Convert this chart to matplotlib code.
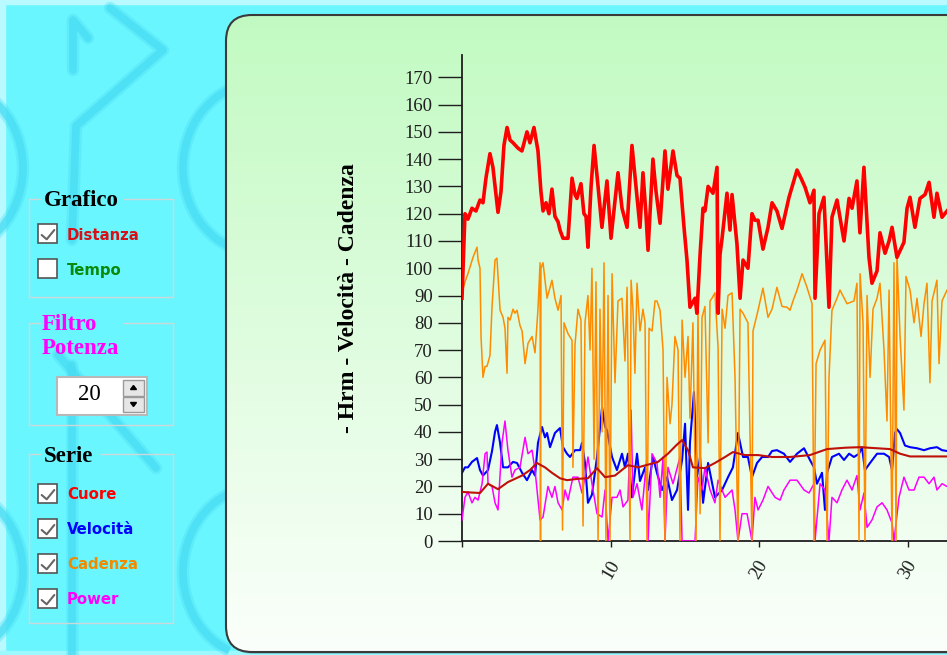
import matplotlib
matplotlib.use("Agg")
import numpy as np
import matplotlib.pyplot as plt
from matplotlib.patches import FancyBboxPatch, Rectangle, Polygon, Arc

# ---------------- data (distance in km) ----------------
dist_hr = [0.00, 0.20, 0.40, 0.67, 0.94, 1.21, 1.41, 1.61, 1.88, 2.08, 2.42, 2.62, 2.82, 3.03, 3.23,
           3.43, 3.77, 4.03, 4.37, 4.57, 4.84, 5.11, 5.31, 5.45, 5.65, 5.85, 6.05, 6.25, 6.46, 6.59,
           6.79, 7.13, 7.40, 7.60, 7.73, 8.00, 8.20, 8.34, 8.47, 8.68, 8.88, 9.15, 9.41, 9.75, 10.02,
           10.29, 10.49, 10.76, 11.10, 11.43, 11.70, 11.97, 12.17, 12.37, 12.51, 12.84, 13.05, 13.32,
           13.65, 13.85, 14.19, 14.46, 14.66, 14.93, 15.13, 15.33, 15.67, 15.80, 16.01, 16.21, 16.34,
           16.55, 16.88, 17.15, 17.22, 17.35, 17.49, 17.82, 18.02, 18.16, 18.49, 18.70, 18.90, 19.23,
           19.50, 19.70, 19.91, 20.24, 20.58, 20.85, 21.18, 21.52, 21.99, 22.26, 22.53, 22.80, 23.07,
           23.40, 23.67, 23.74, 24.01, 24.34, 24.68, 24.88, 25.22, 25.69, 26.03, 26.23, 26.56, 26.76,
           27.03, 27.37, 27.57, 27.91, 28.11, 28.45, 28.72, 28.92, 29.25, 29.72, 29.93, 30.13, 30.46,
           30.80, 31.14, 31.41, 31.74, 31.94, 32.28, 32.62]
hr = [89, 120, 118, 122, 121, 125, 124, 133, 142, 137, 120.5, 128, 145, 151.6, 147,
      146, 144, 143, 150, 146, 151.6, 143, 128, 121, 124, 120, 129, 119, 117, 114,
      111, 111, 133, 127, 125.6, 131, 120, 119, 107.7, 130, 145, 130, 115, 132, 111,
      125, 135, 122, 115, 145, 130, 115, 135, 120, 106.6, 140, 128, 116.5,
      143, 129, 143, 134, 133, 115, 103, 85.7, 89, 83.5, 105, 122, 121,
      130, 127.5, 137, 83.5, 105, 111, 127.5, 114, 127, 109, 89, 103, 100,
      120, 117.6, 117.6, 107, 115, 124, 121, 114.6, 126, 131, 136, 133, 129.7,
      124, 128.6, 89, 120, 126, 85.7, 118.7, 125, 110, 125.6, 122, 132, 113,
      137, 104, 94.5, 99, 113, 105.5, 110, 115, 104, 109.5, 122, 126, 115,
      125.6, 127, 131.5, 118.7, 127.5, 118.7, 121]

dist_cad = [0.00, 0.20, 0.40, 0.74, 1.01, 1.08, 1.21, 1.28, 1.41, 1.55, 1.68, 1.88, 2.02, 2.22, 2.35,
            2.56, 2.76, 2.89, 3.03, 3.09, 3.23, 3.43, 3.56, 3.70, 3.90, 4.04, 4.24, 4.44, 4.71, 4.91,
            5.11, 5.25, 5.28, 5.31, 5.45, 5.72, 6.05, 6.25, 6.46, 6.66, 6.76, 6.86, 7.13, 7.40, 7.46,
            7.60, 7.80, 8.00, 8.14, 8.27, 8.47, 8.61, 8.74, 8.88, 9.01, 9.15, 9.28, 9.42, 9.55, 9.68,
            9.82, 9.95, 10.09, 10.29, 10.49, 10.76, 10.96, 11.10, 11.30, 11.37, 11.50, 11.63, 11.77,
            11.97, 12.17, 12.31, 12.44, 12.58, 12.78, 12.98, 13.11, 13.32, 13.52, 13.65, 13.79, 13.99,
            14.12, 14.32, 14.53, 14.66, 14.80, 15.00, 15.20, 15.33, 15.53, 15.74, 15.87, 16.01, 16.14,
            16.34, 16.55, 16.68, 16.81, 17.01, 17.22, 17.35, 17.49, 17.69, 17.89, 18.16, 18.36, 18.56,
            18.70, 18.90, 19.23, 19.50, 19.57, 19.91, 20.24, 20.58, 20.85, 21.18, 21.52, 21.86, 22.06,
            22.26, 22.53, 22.87, 23.20, 23.54, 23.67, 23.81, 24.08, 24.41, 24.55, 24.68, 24.88, 25.22,
            25.42, 25.89, 26.36, 26.56, 26.70, 26.77, 26.97, 27.10, 27.24, 27.44, 27.64, 27.91, 28.11,
            28.38, 28.58, 28.72, 28.92, 29.05, 29.19, 29.25, 29.46, 29.72, 29.86, 30.13, 30.40, 30.60,
            30.87, 31.07, 31.27, 31.47, 31.61, 31.94, 32.08, 32.28, 32.62]
cad = [91, 95, 98, 104, 107.7, 103, 100, 75, 60, 64, 64, 68, 86, 103, 103.7,
       84.6, 82, 78, 61.5, 82, 81, 85, 83.5, 84.6, 79, 77, 65, 72.5, 75, 69,
       85, 102, 0, 100, 102, 89, 95.6, 89, 84.6, 90, 4, 80, 76, 73.6, 27,
       72, 85, 81, 5.5, 80, 90, 70, 100, 30, 95, 0, 85, 40, 102, 0,
       90, 0, 98, 58, 88, 89, 66, 93, 0, 95.6, 84.6, 61.5, 94.5,
       77, 85, 80, 0, 78, 77, 88, 88, 84.6, 70, 0, 60, 43,
       50, 75, 70, 0, 81, 60, 75, 45, 80, 0, 85, 10, 82,
       86, 36, 88, 89, 91, 71, 0, 85, 78, 90, 91, 60, 0,
       85, 83.5, 80, 0, 77, 84.6, 92.7, 82, 85, 93, 86, 85.7, 84.6,
       88, 92, 98, 93, 87, 0, 65, 70, 73.6, 0, 60, 84.6, 89,
       92, 87, 88, 94.5, 0, 98, 80, 0, 90, 60, 85, 89, 94.5,
       70, 44, 92, 0, 102, 0, 105, 75, 48, 97, 92, 80, 89,
       75, 87, 94.5, 58, 88, 95.6, 65, 88, 92]

dist_spd = [0.00, 0.20, 0.40, 0.67, 1.01, 1.21, 1.41, 1.75, 2.02, 2.22, 2.35, 2.56, 2.76, 3.09, 3.43,
            3.70, 4.04, 4.37, 4.71, 4.91, 5.11, 5.38, 5.58, 5.72, 5.92, 6.25, 6.59, 6.79, 7.06, 7.26,
            7.60, 7.94, 8.07, 8.27, 8.47, 8.74, 9.08, 9.42, 9.62, 9.75, 10.09, 10.42, 10.63, 10.76,
            10.96, 11.16, 11.43, 11.77, 11.97, 12.31, 12.51, 12.84, 13.11, 13.45, 13.79, 14.12, 14.46,
            14.80, 15.00, 15.20, 15.33, 15.60, 15.80, 16.01, 16.21, 16.55, 17.01, 17.49, 17.89, 18.22,
            18.56, 18.90, 19.23, 19.50, 19.84, 20.18, 20.58, 20.85, 21.18, 21.65, 22.06, 22.53, 23.00,
            23.40, 23.67, 23.87, 24.21, 24.41, 24.55, 24.88, 25.35, 25.69, 26.03, 26.36, 26.70, 26.90,
            27.10, 27.44, 27.91, 28.38, 28.72, 28.92, 29.12, 29.25, 29.46, 29.79, 30.13, 30.60, 31.07,
            31.47, 31.94, 32.28, 32.62]
spd = [25, 27, 27, 29, 30.4, 26, 24, 26, 33, 40, 42.5, 36, 27, 27, 29,
       28.6, 25, 22.3, 26, 24, 36, 41.8, 38, 39.6, 34.4, 39.6, 41.4, 34.4, 32, 30.8,
       33.3, 33.3, 36, 28.6, 14, 17, 30.8, 49, 42, 40.6, 30.8, 26, 29.7, 32,
       27, 32, 16, 32, 22, 27, 18.7, 30.8, 25, 18.7, 23.4, 15, 18.7,
       29.7, 43, 11.4, 36, 54.6, 23.4, 30.8, 14, 28.6, 16, 18.7, 23.4, 27,
       39.6, 30.8, 30.8, 23.4, 28.6, 30.8, 30.8, 33, 33.3, 32, 29, 32, 34,
       29.7, 27, 21, 25, 11.4, 25, 30.8, 32, 29.7, 32, 30.8, 32, 34.4,
       26, 28.6, 32, 32, 30.8, 26, 39.6, 41, 39.6, 35, 34.4, 34, 33.3,
       34, 34.4, 33.3, 33]

dist_pwr = [0.00, 0.20, 0.40, 0.67, 0.87, 1.08, 1.35, 1.55, 1.68, 1.75, 2.02, 2.22, 2.42, 2.69, 2.89,
            3.09, 3.36, 3.56, 3.90, 4.24, 4.44, 4.71, 4.91, 5.25, 5.45, 5.78, 6.05, 6.25, 6.46, 6.73,
            6.93, 7.13, 7.46, 7.80, 8.07, 8.27, 8.47, 8.74, 9.08, 9.42, 9.62, 9.82, 10.09, 10.42,
            10.63, 10.83, 11.16, 11.37, 11.50, 11.77, 12.10, 12.44, 12.51, 12.78, 13.11, 13.32, 13.52,
            13.65, 13.85, 14.19, 14.66, 14.80, 15.67, 15.87, 16.14, 16.34, 16.68, 17.01, 17.22, 17.69,
            18.16, 18.36, 18.56, 18.83, 19.17, 19.50, 19.70, 19.91, 20.24, 20.58, 21.05, 21.39, 21.65,
            22.06, 22.53, 23.00, 23.34, 23.67, 23.74, 24.08, 24.41, 24.68, 24.88, 25.22, 25.55, 25.89,
            26.23, 26.56, 26.77, 27.03, 27.24, 27.57, 27.91, 28.25, 28.58, 28.92, 29.05, 29.39, 29.72,
            30.06, 30.40, 30.73, 31.07, 31.41, 31.74, 31.94, 32.28, 32.62]
pwr = [7.7, 16, 18, 14, 16, 15, 21, 32, 32.6, 21, 20, 14, 11.4, 36, 44,
       33.3, 23.4, 26, 27, 38, 32, 33.3, 26, 7.7, 8.8, 20, 16, 20, 14, 11.4,
       18.7, 15, 23.4, 23.4, 17.6, 23.4, 30.8, 21, 10, 8.8, 18.7, 0, 16, 16,
       18.7, 12.5, 15, 48, 16, 21, 11.4, 30.8, 0, 32, 28.6, 16, 30.8,
       0, 27, 21, 30.8, 0, 0, 23.4, 18.7, 27, 18.7, 14, 22.3, 16,
       18.7, 11.4, 0, 10, 10, 0, 16, 11.4, 15, 20, 16, 15, 18.7,
       22.3, 22.3, 18.7, 17.6, 21, 0, 21, 18.7, 0, 16, 14, 18.7, 22.3,
       18.7, 24, 11.4, 17.6, 5, 7.7, 12.5, 14, 11.4, 6.6, 0, 16, 23.4,
       18.7, 18.7, 23.4, 23.4, 21, 23.4, 18.7, 21, 20]

dist_avg = [0.00, 0.54, 1.21, 1.75, 2.42, 3.09, 4.04, 4.57, 5.04, 5.58, 6.05, 6.59, 7.06, 7.80, 8.47,
            9.08, 9.62, 10.29, 11.16, 11.84, 12.51, 13.18, 13.85, 14.39, 14.80, 15.20, 15.53, 16.34,
            17.01, 17.69, 18.22, 19.03, 19.91, 20.85, 22.06, 23.40, 24.55, 25.76, 26.77, 28.78, 29.46,
            30.13, 32.28, 32.62]
avg_spd = [18, 17.8, 17.6, 21, 19, 21.6, 24, 26, 28.6, 27, 25, 23, 22.3, 22.8, 23,
           26.7, 23.4, 24, 27.8, 27, 28, 29, 32, 35, 37, 33.3, 27, 26.7,
           28.6, 30.8, 32.6, 31.5, 31.5, 30.8, 30.8, 31.5, 33.7, 34.2, 34.4, 33.7, 32,
           31, 31, 31]

y_ticks = list(range(0, 171, 10))
x_ticks = [0, 10, 20, 30]
x_tick_labels = ["", "10", "20", "30"]

# ---------------- page background (pixel coordinates) ----------------
W, H = 947, 655
fig = plt.figure(figsize=(W / 100, H / 100), dpi=100)
bg = fig.add_axes([0, 0, 1, 1])
bg.set_xlim(0, W)
bg.set_ylim(H, 0)
bg.axis("off")

bg.add_patch(Rectangle((0, 0), W, H, color="#6AF6FF", zorder=0))
bg.add_patch(Rectangle((0, 0), 5, H, color="#B8FAFF", zorder=0.5))
bg.add_patch(Rectangle((0, 0), W, 4, color="#B8FAFF", zorder=0.5))
bg.add_patch(Rectangle((0, H - 4), W, 4, color="#9CF9FF", zorder=0.5))

# soft decorative strokes of the page texture
deco_col = "#48DCF2"


def soft_line(xs, ys):
    bg.plot(xs, ys, color=deco_col, lw=9, alpha=0.35, solid_capstyle="round",
            solid_joinstyle="round", zorder=0.6)
    bg.plot(xs, ys, color=deco_col, lw=5.5, alpha=0.7, solid_capstyle="round",
            solid_joinstyle="round", zorder=0.61)


def soft_arc(cx, cy, w, h, t1, t2):
    bg.add_patch(Arc((cx, cy), w, h, theta1=t1, theta2=t2, color=deco_col, lw=9, alpha=0.35, zorder=0.6))
    bg.add_patch(Arc((cx, cy), w, h, theta1=t1, theta2=t2, color=deco_col, lw=5.5, alpha=0.7, zorder=0.61))


soft_line([73, 73, 88], [70, 20, 38])
soft_line([110, 163, 76, 72], [8, 50, 126, 240])
soft_line([72, 72], [365, 655])
soft_line([58, 156], [355, 468])
for cy in (168, 572):
    soft_arc(258, cy, 150, 170, 110, 250)
    soft_arc(-52, cy, 150, 170, -65, 65)

# ---------------- rounded chart panel with gradient ----------------
px0, py0, pw, ph = 226, 15, 780, 637
shadow = FancyBboxPatch((px0 + 2, py0 + 2), pw, ph, boxstyle="round,pad=0,rounding_size=26",
                        facecolor="#2A8A90", edgecolor="none", alpha=0.35, zorder=0.8)
bg.add_patch(shadow)
panel = FancyBboxPatch((px0, py0), pw, ph, boxstyle="round,pad=0,rounding_size=26",
                       facecolor="none", edgecolor="#3A3A3A", lw=1.5, zorder=1.2)
bg.add_patch(panel)
top_c = np.array([0.76, 0.98, 0.76])
bot_c = np.array([0.985, 1.0, 0.985])
t = np.linspace(0, 1, 256)[:, None, None]
grad = top_c * (1 - t) + bot_c * t
grad = np.repeat(grad, 2, axis=1)
img = bg.imshow(grad, extent=(px0, px0 + pw, py0 + ph, py0), origin="upper",
                aspect="auto", zorder=1, interpolation="bilinear")
img.set_clip_path(panel)

# ---------------- left control panel ----------------
serif = "Liberation Serif"
sans = "DejaVu Sans"
border = "#CFD8D8"


def fieldset(x0, x1, y0, y1, gap0, gap1):
    kw = dict(color=border, lw=1.0, zorder=2)
    bg.plot([x0, gap0], [y0, y0], **kw)
    bg.plot([gap1, x1], [y0, y0], **kw)
    bg.plot([x0, x0, x1, x1], [y0, y1, y1, y0], **kw)


def checkbox(x, y, checked):
    bg.add_patch(Rectangle((x, y), 19, 19, facecolor="white", edgecolor="#555555", lw=1.2, zorder=3))
    if checked:
        bg.plot([x + 3.7, x + 8.7, x + 16.3], [y + 11, y + 15.3, y + 6], color="#666666",
                lw=1.5, zorder=4, solid_capstyle="round")


fieldset(29, 173, 199, 297, 40, 124)
bg.text(44, 200, "Grafico", fontfamily=serif, fontweight="bold", fontsize=16.5,
        color="black", va="center", ha="left", zorder=3)
checkbox(38, 224, True)
bg.text(67, 235, "Distanza", fontfamily=sans, fontweight="bold", fontsize=10.7,
        color="#D81018", va="center", ha="left", zorder=3)
checkbox(38, 259, False)
bg.text(67, 270, "Tempo", fontfamily=sans, fontweight="bold", fontsize=10.7,
        color="#0A8A0A", va="center", ha="left", zorder=3)

fieldset(29, 173, 323, 425, 40, 124)
bg.text(42, 324, "Filtro", fontfamily=serif, fontweight="bold", fontsize=16.5,
        color="#FF00FF", va="center", ha="left", zorder=3)
bg.text(42, 349, "Potenza", fontfamily=serif, fontweight="bold", fontsize=16.5,
        color="#FF00FF", va="center", ha="left", zorder=3)
bg.add_patch(Rectangle((57, 377), 90, 38, facecolor="white", edgecolor="#B8B8B8", lw=1.5, zorder=3))
bg.text(89, 395, "20", fontfamily=serif, fontsize=16.5, color="black", va="center", ha="center", zorder=4)
bg.add_patch(Rectangle((123, 380), 21, 15.5, facecolor="#E6E6E6", edgecolor="#9A9A9A", lw=1, zorder=4))
bg.add_patch(Rectangle((123, 396.5), 21, 15.5, facecolor="#E6E6E6", edgecolor="#9A9A9A", lw=1, zorder=4))
bg.add_patch(Polygon([[130.5, 389.5], [136.5, 389.5], [133.5, 385.5]], closed=True, color="black", zorder=5))
bg.add_patch(Polygon([[130.5, 402.5], [136.5, 402.5], [133.5, 406.5]], closed=True, color="black", zorder=5))

fieldset(29, 173, 454, 623, 40, 101)
bg.text(44, 456, "Serie", fontfamily=serif, fontweight="bold", fontsize=16.5,
        color="black", va="center", ha="left", zorder=3)
series_names = ["Cuore", "Velocità", "Cadenza", "Power"]
series_colors = ["#FF0000", "#0000FF", "#F08A00", "#FF00FF"]
for i, (name, col) in enumerate(zip(series_names, series_colors)):
    yb = 484 + 35 * i
    checkbox(38, yb, True)
    bg.text(67, yb + 10.5, name, fontfamily=sans, fontweight="bold", fontsize=10.7,
            color=col, va="center", ha="left", zorder=3)

# ---------------- chart ----------------
x_left, x_right = 462, W
y_top, y_bottom = 55, 541
ax = fig.add_axes([x_left / W, (H - y_bottom) / H, (x_right - x_left) / W, (y_bottom - y_top) / H])
ax.patch.set_alpha(0)
ax.set_zorder(5)

ax.plot(dist_spd, spd, color="#0000FF", lw=1.5, zorder=2)
ax.plot(dist_pwr, pwr, color="#FF00FF", lw=1.1, zorder=3)
ax.plot(dist_cad, cad, color="#FF8C00", lw=1.1, zorder=4)
ax.plot(dist_avg, avg_spd, color="#C0100A", lw=1.5, zorder=5)
ax.plot(dist_hr, hr, color="#FF0000", lw=2.6, zorder=6)

ax.set_xlim(0, (x_right - x_left) / 14.87)
ax.set_ylim(0, (y_bottom - y_top) / 2.7276)

for side in ("top", "right"):
    ax.spines[side].set_visible(False)
for side in ("left", "bottom"):
    ax.spines[side].set_color("#1E1E1E")
    ax.spines[side].set_linewidth(1.3)

ax.set_yticks(y_ticks)
ax.set_yticklabels([str(v) for v in y_ticks])
ax.set_xticks(x_ticks)
ax.set_xticklabels(x_tick_labels)
ax.tick_params(axis="y", direction="out", length=17.5, width=1.0, color="#1E1E1E",
               pad=3.5, labelsize=13.5, labelcolor="#1E1E1E")
ax.tick_params(axis="x", direction="out", length=4.5, width=1.0, color="#1E1E1E",
               pad=7.5, labelsize=13.5, labelcolor="#1E1E1E")
for lab in ax.get_yticklabels() + ax.get_xticklabels():
    lab.set_fontfamily(serif)
for lab in ax.get_xticklabels():
    lab.set_rotation(60)
    lab.set_ha("center")
    lab.set_va("top")

ax.set_ylabel("- Hrm - Velocità - Cadenza", fontfamily=serif, fontweight="bold",
              fontsize=17, color="black")
ax.yaxis.set_label_coords((359 - x_left) / (x_right - x_left), 0.5)

fig.savefig("out.png", dpi=100)
